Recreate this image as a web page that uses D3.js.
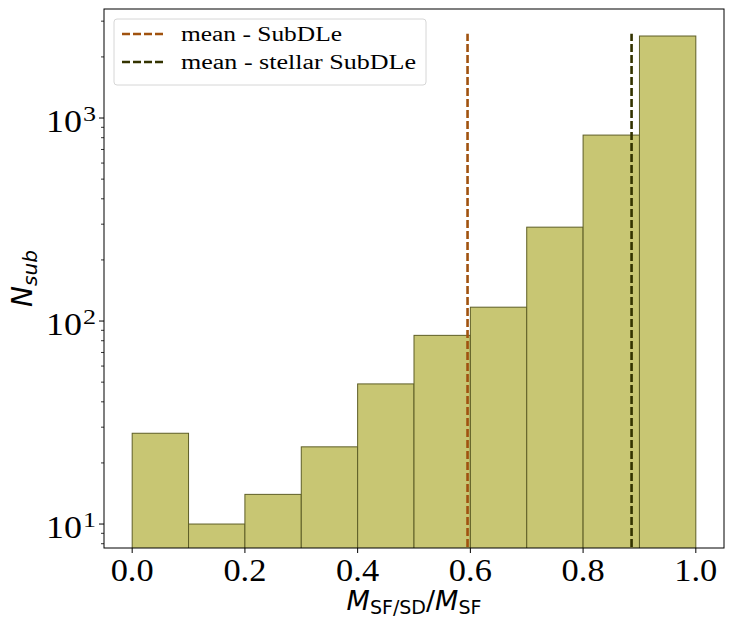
<html>
<head>
    <meta charset="utf-8">
    <title>SubDLe histogram</title>
    <style>
        body { margin: 0; padding: 0; background: white; }
        text { font-family: "DejaVu Serif", "Liberation Serif", serif; }
    </style>
</head>
<body>
<div id="chart"></div>
<script src="https://d3js.org/d3.v7.min.js"></script>
<script>
    // histogram data
    var binEdges = [0.0, 0.1, 0.2, 0.3, 0.4, 0.5, 0.6, 0.7, 0.8, 0.9, 1.0];
    var counts = [28, 10, 14, 24, 49, 85, 117, 290, 824, 2535];
    var meanNames = ["mean - SubDLe", "mean - stellar SubDLe"];
    var meanValues = [0.595, 0.886];
    var meanTop = 2600;
    var meanColors = ["#a0520f", "#333300"];
    var xTicks = [0.0, 0.2, 0.4, 0.6, 0.8, 1.0];
    var yTicks = [10, 100, 1000];

    var W = 733, H = 632;
    var margin = { top: 9, left: 104, right: 9, bottom: 84 };
    var pw = W - margin.left - margin.right,
        ph = H - margin.top - margin.bottom;

    // serif text is narrower here than in the original, so widths are pinned
    var serif = "'Liberation Serif', serif";
    var legendWidths = [161, 235];

    var svg = d3.select("#chart").append("svg")
        .attr("width", W).attr("height", H);

    var x = d3.scaleLinear().domain([-0.05, 1.05]).range([0, pw]);
    var y = d3.scaleLog().domain([7.62, 3444]).range([ph, 0]);

    svg.append("defs").append("clipPath").attr("id", "clip")
        .append("rect").attr("width", pw).attr("height", ph);

    var g = svg.append("g")
        .attr("transform", "translate(" + margin.left + "," + margin.top + ")");

    var plot = g.append("g").attr("clip-path", "url(#clip)");

    // bars
    plot.selectAll("rect.bar")
        .data(counts)
        .enter()
        .append("rect")
        .attr("class", "bar")
        .attr("x", function (d, i) { return x(binEdges[i]); })
        .attr("width", function (d, i) { return x(binEdges[i + 1]) - x(binEdges[i]); })
        .attr("y", function (d) { return y(d); })
        .attr("height", function (d) { return ph + 10 - y(d); })
        .attr("fill", "#c8c673")
        .attr("stroke", "#5e5e26")
        .attr("stroke-width", 1);

    // mean lines
    plot.selectAll("line.mean")
        .data(meanValues)
        .enter()
        .append("line")
        .attr("class", "mean")
        .attr("x1", function (d) { return x(d); })
        .attr("x2", function (d) { return x(d); })
        .attr("y1", ph + 10)
        .attr("y2", y(meanTop))
        .attr("stroke", function (d, i) { return meanColors[i]; })
        .attr("stroke-width", 2.6)
        .attr("stroke-dasharray", "8,3");

    // frame
    g.append("rect")
        .attr("width", pw).attr("height", ph)
        .attr("fill", "none").attr("stroke", "black").attr("stroke-width", 1);

    // x axis
    var xAxis = g.append("g").attr("transform", "translate(0," + ph + ")");
    xTicks.forEach(function (t) {
        xAxis.append("line")
            .attr("x1", x(t)).attr("x2", x(t))
            .attr("y1", 0).attr("y2", 5)
            .attr("stroke", "black");
        xAxis.append("text")
            .attr("x", x(t)).attr("y", 33)
            .attr("text-anchor", "middle")
            .style("font-family", serif)
            .attr("font-size", 31)
            .attr("textLength", 43)
            .attr("lengthAdjust", "spacingAndGlyphs")
            .text(t.toFixed(1));
    });

    // y axis major + minor ticks
    var yAxis = g.append("g");
    var minor = [];
    [1, 10, 100, 1000].forEach(function (dec) {
        for (var k = 2; k <= 9; k++) {
            var v = dec * k;
            if (v > y.domain()[0] && v < y.domain()[1]) minor.push(v);
        }
    });
    minor.forEach(function (v) {
        yAxis.append("line")
            .attr("x1", -3).attr("x2", 0)
            .attr("y1", y(v)).attr("y2", y(v))
            .attr("stroke", "black").attr("stroke-width", 0.8);
    });
    yTicks.forEach(function (t) {
        yAxis.append("line")
            .attr("x1", -5).attr("x2", 0)
            .attr("y1", y(t)).attr("y2", y(t))
            .attr("stroke", "black");
        yAxis.append("text")
            .attr("x", -58).attr("y", y(t) + 14)
            .style("font-family", serif)
            .attr("font-size", 31)
            .attr("textLength", 36)
            .attr("lengthAdjust", "spacingAndGlyphs")
            .text("10");
        yAxis.append("text")
            .attr("x", -21).attr("y", y(t) + 3)
            .style("font-family", serif)
            .attr("font-size", 21)
            .attr("textLength", 13)
            .attr("lengthAdjust", "spacingAndGlyphs")
            .text(Math.round(Math.log10(t)));
    });

    // axis labels
    var ylab = svg.append("text")
        .attr("transform", "translate(32," + (margin.top + ph / 2) + ") rotate(-90)")
        .attr("text-anchor", "middle")
        .style("font-family", "'DejaVu Sans', sans-serif");
    ylab.append("tspan").attr("font-size", 28).attr("font-style", "italic").text("N");
    ylab.append("tspan").attr("font-size", 20).attr("font-style", "italic").attr("dy", 5).text("sub");

    var xlab = svg.append("text")
        .attr("x", margin.left + x(0.5)).attr("y", 610)
        .attr("text-anchor", "middle")
        .style("font-family", "'DejaVu Sans', sans-serif");
    xlab.append("tspan").attr("font-size", 27).attr("font-style", "italic").text("M");
    xlab.append("tspan").attr("font-size", 19).attr("dy", 4).text("SF/SD");
    xlab.append("tspan").attr("font-size", 27).attr("dy", -4).text("/");
    xlab.append("tspan").attr("font-size", 27).attr("font-style", "italic").text("M");
    xlab.append("tspan").attr("font-size", 19).attr("dy", 4).text("SF");

    // legend
    var leg = g.append("g").attr("transform", "translate(10,10)");
    leg.append("rect")
        .attr("width", 312).attr("height", 66).attr("rx", 3)
        .attr("fill", "white").attr("fill-opacity", 0.8)
        .attr("stroke", "#d6d6d6");
    meanNames.forEach(function (name, i) {
        var ly = 15 + i * 28;
        leg.append("line")
            .attr("x1", 8).attr("x2", 49)
            .attr("y1", ly).attr("y2", ly)
            .attr("stroke", meanColors[i]).attr("stroke-width", 2.6)
            .attr("stroke-dasharray", "8,3");
        leg.append("text")
            .attr("x", 67).attr("y", ly + 7)
            .style("font-family", serif)
            .attr("font-size", 20)
            .attr("textLength", legendWidths[i])
            .attr("lengthAdjust", "spacingAndGlyphs")
            .text(name);
    });
</script>
</body>
</html>
